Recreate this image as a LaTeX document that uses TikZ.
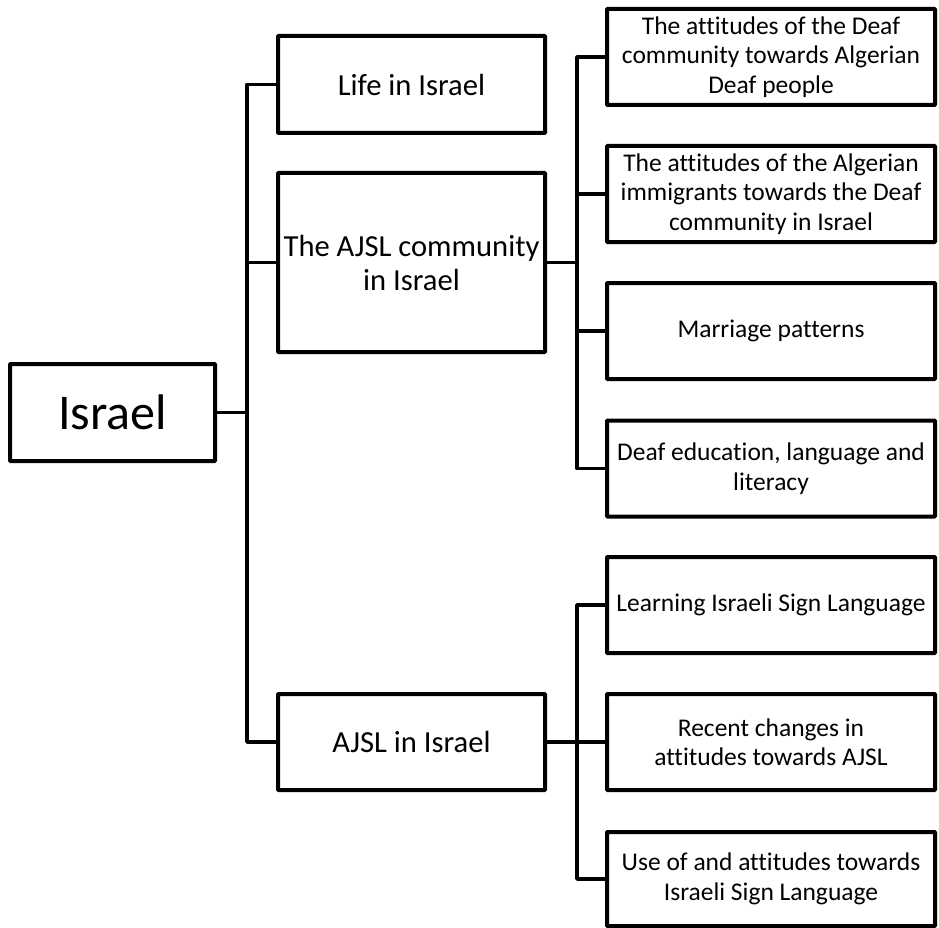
\documentclass[tikz,border=0pt]{standalone}
\usepackage{fontspec}
\setmainfont[Ligatures=NoCommon]{Carlito}
\begin{document}
\begin{tikzpicture}[x=1pt,y=-1pt,
  box/.style={draw=black,line width=4pt,rectangle,outer sep=0pt,inner sep=0pt,align=center,rounded corners=0.8pt},
  rbox/.style={box,minimum width=328pt,minimum height=96pt,font=\fontsize{25.5}{29.5}\selectfont},
  mbox/.style={box,minimum width=267pt,font=\fontsize{30.6}{34}\selectfont},
  conn/.style={draw=black,line width=3.6pt,line join=round}]
\useasboundingbox (0,0) rectangle (939,928);
\node[box,minimum width=205pt,minimum height=97pt,font=\fontsize{50}{58}\selectfont] (israel) at (112.5,412.5) {Israel};
\node[mbox,minimum height=97pt] (life) at (411.5,84.5) {Life in Israel};
\node[mbox,minimum height=179pt] (comm) at (411.5,262.5) {The AJSL community\\in Israel};
\node[mbox,minimum height=96pt] (ajsl) at (411.5,742) {AJSL in Israel};
\node[rbox] (r1) at (771,57) {The attitudes of the Deaf\\community towards Algerian\\Deaf people};
\node[rbox] (r2) at (771,194) {The attitudes of the Algerian\\immigrants towards the Deaf\\community in Israel};
\node[rbox] (r3) at (771,331) {Marriage patterns};
\node[rbox] (r4) at (771,468.5) {Deaf education, language and\\literacy};
\node[rbox] (r5) at (771,605) {Learning Israeli Sign Language};
\node[rbox] (r6) at (771,742) {Recent changes in\\attitudes towards AJSL};
\node[rbox,minimum height=94pt] (r7) at (771,879) {Use of and attitudes towards\\Israeli Sign Language};
\coordinate (t1) at (247,0);
\coordinate (t2) at (577,0);
% trunk 1
\draw[conn] (life.west) -- (life.west -| t1) -- (ajsl.west -| t1) -- (ajsl.west);
\draw[conn] (israel.east) -- (israel.east -| t1);
\draw[conn] (comm.west) -- (comm.west -| t1);
% trunk 2
\draw[conn] (r1.west) -- (r1.west -| t2) -- (r4.west -| t2) -- (r4.west);
\draw[conn] (comm.east) -- (comm.east -| t2);
\draw[conn] (r2.west) -- (r2.west -| t2);
\draw[conn] (r3.west) -- (r3.west -| t2);
% trunk 3
\draw[conn] (r5.west) -- (r5.west -| t2) -- (r7.west -| t2) -- (r7.west);
\draw[conn] (ajsl.east) -- (r6.west);
\end{tikzpicture}
\end{document}
